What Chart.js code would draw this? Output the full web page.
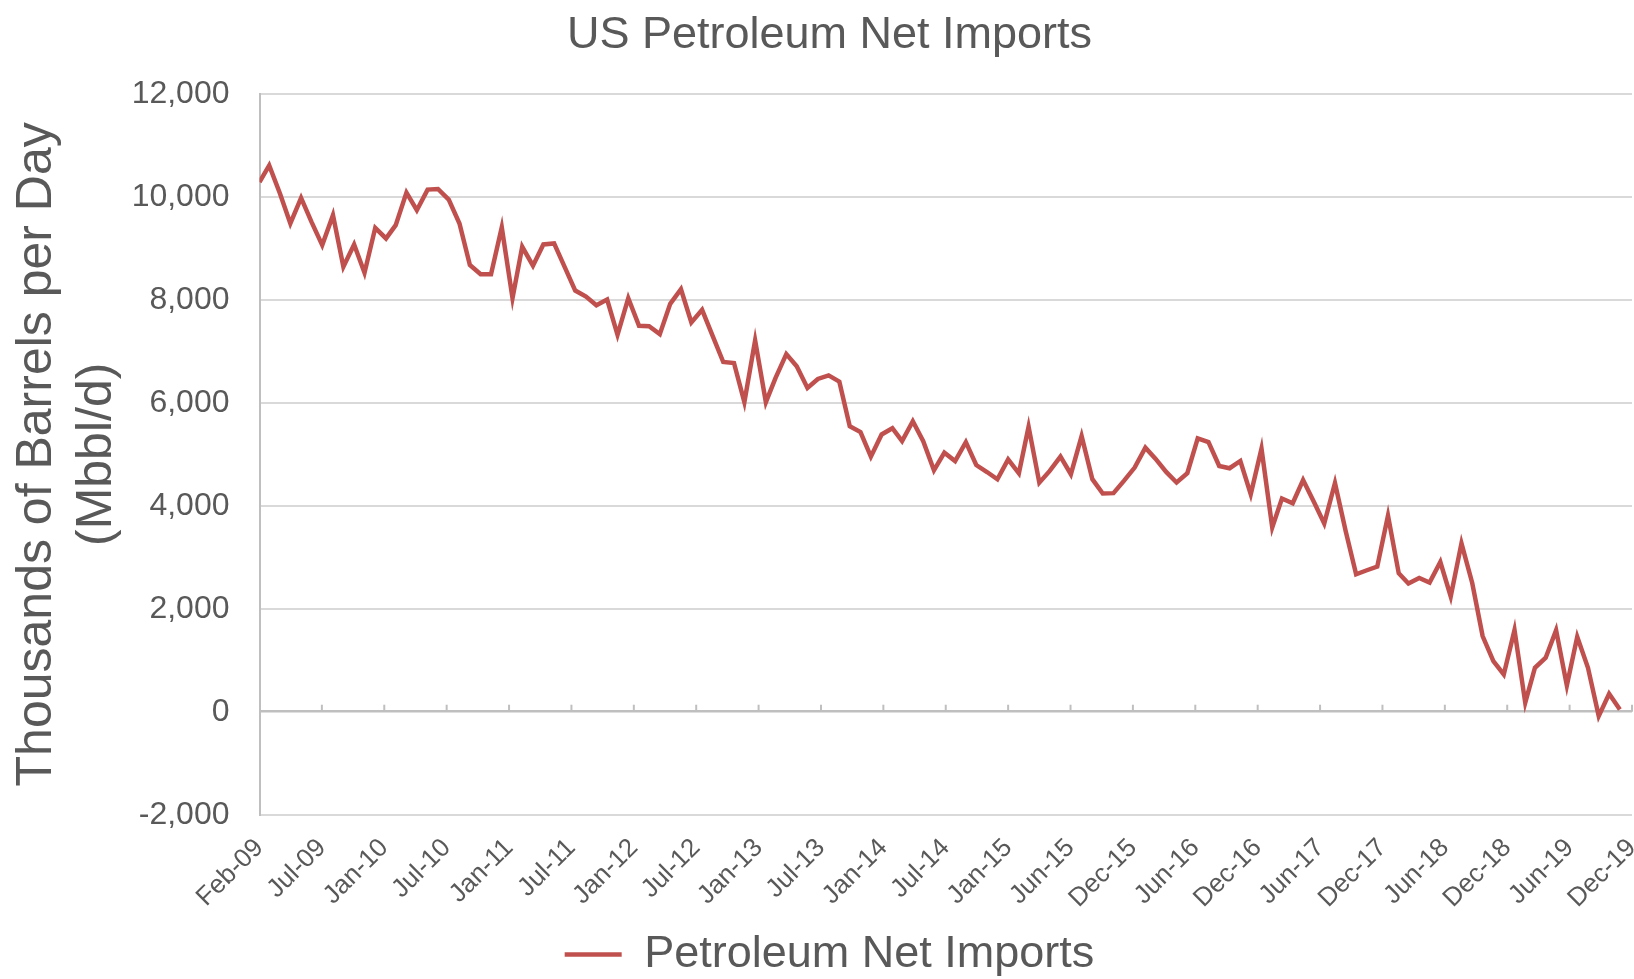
<!doctype html>
<html>

<head>
	<title>US Petroleum Net Imports</title>
	<script src="https://cdn.jsdelivr.net/npm/chart.js@4.4.1/dist/chart.umd.min.js"></script>
	<style>
	body { margin: 0; background: #fff; }
	#wrap { width: 1634px; height: 979px; }
	</style>
</head>

<body>
	<div id="wrap">
		<canvas id="canvas"></canvas>
	</div>
	<script>
		// monthly net imports, Mbbl/d, Feb-09 .. Nov-19
		const netImports = [
			10290, 10614, 10066, 9485, 9981, 9516, 9065, 9646, 8645, 9078, 8529,      // 2009 (Feb-Dec)
			9400, 9194, 9452, 10085, 9742, 10143, 10155, 9949, 9485, 8678, 8497, 8497, // 2010
			9410, 8033, 9032, 8664, 9077, 9097, 8645, 8181, 8065, 7897, 8006, 7322,    // 2011
			8033, 7497, 7490, 7335, 7923, 8207, 7561, 7806, 7290, 6794, 6774, 6013,    // 2012
			7213, 6013, 6484, 6948, 6709, 6290, 6464, 6534, 6412, 5547, 5431, 4955,    // 2013
			5386, 5508, 5257, 5644, 5257, 4690, 5032, 4870, 5237, 4792, 4657, 4515,    // 2014
			4903, 4632, 5537, 4450, 4678, 4956, 4614, 5355, 4517, 4240, 4246, 4484,    // 2015
			4743, 5130, 4917, 4658, 4453, 4633, 5311, 5239, 4774, 4730, 4871, 4226,    // 2016
			5111, 3581, 4142, 4050, 4500, 4077, 3657, 4445, 3508, 2670, 2748, 2819,    // 2017
			3812, 2689, 2490, 2598, 2509, 2908, 2238, 3270, 2500, 1470, 983, 724,      // 2018
			1585, 175, 854, 1049, 1585, 511, 1456, 854, -85, 350, 45                   // 2019 (Jan-Nov)
		];

		// first month of the series (year, month index)
		const firstMonth = [2009, 1];

		// date axis labels, one every 180 days from Feb-09
		const tickLabels = [
			"Feb-09", "Jul-09", "Jan-10", "Jul-10", "Jan-11", "Jul-11", "Jan-12", "Jul-12",
			"Jan-13", "Jul-13", "Jan-14", "Jul-14", "Jan-15", "Jun-15", "Dec-15", "Jun-16",
			"Dec-16", "Jun-17", "Dec-17", "Jun-18", "Dec-18", "Jun-19", "Dec-19"
		];
		const tickStepDays = 180;

		const DAY = 86400000;
		const t0 = Date.UTC(firstMonth[0], firstMonth[1], 1);

		const points = netImports.map((v, i) => {
			const d = Date.UTC(firstMonth[0], firstMonth[1] + i, 1);
			return { x: Math.round((d - t0) / DAY), y: v };
		});

		const grey = "#595959";
		const font = "'Liberation Sans', Arial, sans-serif";

		// small tick marks sitting on the zero line
		const zeroTicks = {
			id: "zeroTicks",
			beforeDatasetsDraw(chart) {
				const x = chart.scales.x, y = chart.scales.y;
				const y0 = y.getPixelForValue(0);
				const ctx = chart.ctx;
				ctx.save();
				ctx.strokeStyle = "#bfbfbf";
				ctx.lineWidth = 2;
				x.ticks.forEach((t, i) => {
					if (i === 0) return;
					const px = x.getPixelForValue(t.value);
					ctx.beginPath();
					ctx.moveTo(px, y0);
					ctx.lineTo(px, y0 - 7);
					ctx.stroke();
				});
				ctx.restore();
			}
		};

		new Chart(document.getElementById("canvas"), {
			type: "line",
			data: {
				datasets: [{
					label: "Petroleum Net Imports",
					data: points,
					borderColor: "#C0504D",
					backgroundColor: "#C0504D",
					borderWidth: 4.5,
					pointRadius: 0,
					tension: 0,
					fill: false
				}]
			},
			options: {
				responsive: true,
				maintainAspectRatio: false,
				animation: false,
				layout: { padding: { left: 27, right: 2, top: 0, bottom: -8 } },
				plugins: {
					title: {
						display: true,
						text: "US Petroleum Net Imports",
						color: grey,
						font: { family: font, size: 45, weight: "normal" },
						padding: { top: 9, bottom: 31 }
					},
					legend: {
						position: "bottom",
						labels: {
							usePointStyle: true,
							pointStyle: "line",
							pointStyleWidth: 57,
							color: grey,
							font: { family: font, size: 45 },
							padding: 0
						}
					},
					tooltip: { enabled: false }
				},
				scales: {
					x: {
						type: "linear",
						min: 0,
						max: tickStepDays * (tickLabels.length - 1),
						afterBuildTicks: (scale) => {
							scale.ticks = tickLabels.map((l, k) => ({ value: k * tickStepDays }));
						},
						afterFit: (scale) => { scale.paddingRight = 2; },
						grid: { display: false, drawTicks: false },
						border: { display: false },
						ticks: {
							autoSkip: false,
							minRotation: 45,
							maxRotation: 45,
							padding: 18,
							color: grey,
							font: { family: font, size: 26 },
							callback: (v, i) => tickLabels[i]
						}
					},
					y: {
						min: -2000,
						max: 12000,
						afterFit: (scale) => { scale.width = 232.5; },
						ticks: {
							stepSize: 2000,
							padding: 30,
							color: grey,
							font: { family: font, size: 32 },
							callback: (v) => v.toLocaleString("en-US")
						},
						grid: {
							drawTicks: false,
							color: (c) => c.tick && c.tick.value === 0 ? "#bfbfbf" : "#d9d9d9",
							lineWidth: (c) => c.tick && c.tick.value === 0 ? 2.5 : 2
						},
						border: { display: true, color: "#bfbfbf", width: 2 },
						title: {
							display: true,
							text: ["Thousands of Barrels per Day", "(Mbbl/d)"],
							color: grey,
							font: { family: font, size: 50 },
							padding: { top: -20, bottom: 7 }
						}
					}
				}
			},
			plugins: [zeroTicks]
		});
	</script>
</body>

</html>
